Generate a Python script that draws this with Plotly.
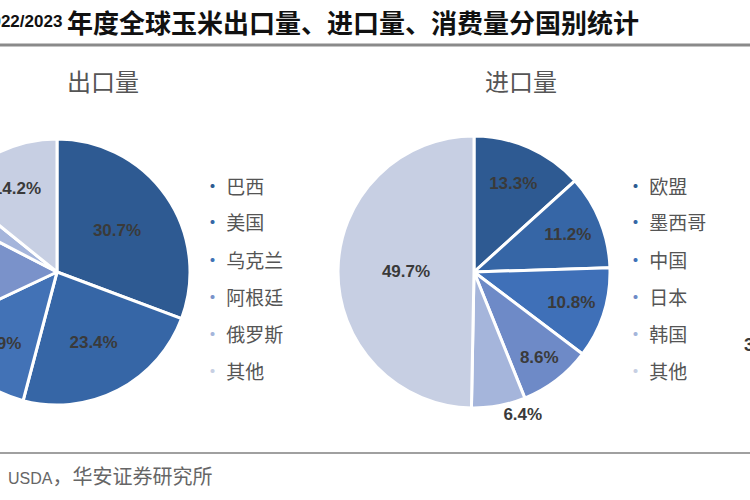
import plotly.graph_objects as go

# ---------------- data ----------------
export_labels = ["巴西", "美国", "乌克兰", "阿根廷", "俄罗斯", "其他"]
export_values = [30.7, 23.4, 13.9, 14.6, 3.2, 14.2]
export_colors = ["#2E5A92", "#3666A6", "#4272B6", "#7A92CA", "#A5B5DB", "#C7CFE3"]

import_labels = ["欧盟", "墨西哥", "中国", "日本", "韩国", "其他"]
import_values = [13.3, 11.2, 10.8, 8.6, 6.4, 49.7]
import_colors = ["#2E5A92", "#3666A6", "#3F70B8", "#6E8AC7", "#A5B5DB", "#C7CFE3"]
import_textpos = ["inside", "inside", "inside", "inside", "outside", "inside"]

title_year = "2022/2023"
title_rest = "年度全球玉米出口量、进口量、消费量分国别统计"
sub_export = "出口量"
sub_import = "进口量"
source_prefix = "资料来源："
source_org = "USDA"
source_rest = "，华安证券研究所"

# ---------------- geometry helpers ----------------
SHIFT = 76           # part of the figure hidden beyond the left edge
W, H = 750 + SHIFT, 500


def px(x):
    return (x + SHIFT) / W


def py(y):
    return 1 - y / H


CJK = "Noto Sans CJK SC"
LAB_FONT = dict(family="Liberation Sans, Arial", size=17, color="#3a3a3a", weight="bold")

fig = go.Figure()

fig.add_trace(go.Pie(
    labels=export_labels, values=export_values,
    marker=dict(colors=export_colors, line=dict(color="white", width=3)),
    sort=False, direction="clockwise", rotation=0,
    texttemplate="%{value:.1f}%", textposition="inside",
    insidetextorientation="horizontal",
    textfont=LAB_FONT,
    domain=dict(x=[px(-76), px(190)], y=[py(405), py(139)]),
    showlegend=False, hoverinfo="label+percent",
))

fig.add_trace(go.Pie(
    labels=import_labels, values=import_values,
    marker=dict(colors=import_colors, line=dict(color="white", width=3)),
    sort=False, direction="clockwise", rotation=0,
    texttemplate="%{value:.1f}%", textposition=import_textpos,
    insidetextorientation="horizontal",
    textfont=LAB_FONT, outsidetextfont=LAB_FONT,
    domain=dict(x=[px(338), px(610)], y=[py(408), py(136)]),
    showlegend=False, hoverinfo="label+percent",
))

annotations = []

# title
annotations.append(dict(x=px(64), y=py(21), xref="paper", yref="paper", xanchor="right", yanchor="middle",
                        text="<b>" + title_year + "</b>", showarrow=False,
                        font=dict(family="Liberation Sans", size=17, color="#111")))
annotations.append(dict(x=px(65), y=py(21), xref="paper", yref="paper", xanchor="left", yanchor="middle",
                        text="<b>" + title_rest + "</b>", showarrow=False,
                        font=dict(family=CJK, size=26, color="#111")))

# subtitles
annotations.append(dict(x=px(103), y=py(80), xref="paper", yref="paper", xanchor="center", yanchor="middle",
                        text=sub_export, showarrow=False, font=dict(family=CJK, size=24, color="#555")))
annotations.append(dict(x=px(521), y=py(80), xref="paper", yref="paper", xanchor="center", yanchor="middle",
                        text=sub_import, showarrow=False, font=dict(family=CJK, size=24, color="#555")))

# legends
legend_y = [185, 222, 259, 296, 333, 370]
for lx, labels, colors in [(201, export_labels, export_colors), (624, import_labels, import_colors)]:
    for lab, col, yy in zip(labels, colors, legend_y):
        annotations.append(dict(x=px(lx), y=py(yy), xref="paper", yref="paper", xanchor="left", yanchor="middle",
                                text=f"<span style='color:{col}'>•</span> {lab}", showarrow=False,
                                font=dict(family=CJK, size=19, color="#555")))

# cut-off label of the third pie at the right edge
annotations.append(dict(x=px(742), y=py(345), xref="paper", yref="paper", xanchor="left", yanchor="middle",
                        text="<b>3</b>", showarrow=False,
                        font=dict(family="Liberation Sans, Arial", size=18, color="#3a3a3a")))

# source
annotations.append(dict(x=px(6), y=py(475), xref="paper", yref="paper", xanchor="right", yanchor="middle",
                        text=source_prefix, showarrow=False, font=dict(family=CJK, size=20, color="#666")))
annotations.append(dict(x=px(6), y=py(475), xref="paper", yref="paper", xanchor="left", yanchor="middle",
                        text=f"<span style='font-family:Liberation Sans;font-size:16px'>{source_org}</span>{source_rest}",
                        showarrow=False, font=dict(family=CJK, size=20, color="#666")))

shapes = [
    dict(type="line", xref="paper", yref="paper", x0=0, x1=1, y0=py(45), y1=py(45),
         line=dict(color="#8a8a8a", width=3)),
    dict(type="line", xref="paper", yref="paper", x0=0, x1=1, y0=py(453), y1=py(453),
         line=dict(color="#a0a0a0", width=2)),
]

fig.update_layout(
    width=W, height=H,
    margin=dict(l=0, r=0, t=0, b=0),
    paper_bgcolor="white", plot_bgcolor="white",
    annotations=annotations, shapes=shapes,
    showlegend=False,
)

post = ("document.body.style.margin='0';document.body.style.overflow='hidden';"
        "var d=document.getElementById('{plot_id}');d.style.position='relative';d.style.left='-%dpx';" % SHIFT)

fig.write_html("out.html", post_script=post, config={"displayModeBar": False})
